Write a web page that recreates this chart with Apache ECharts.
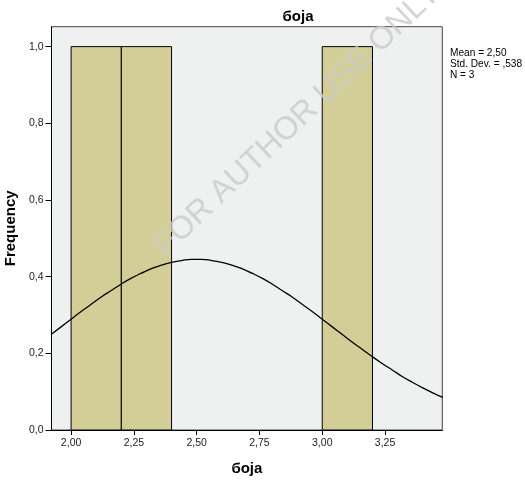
<!DOCTYPE html>
<html>
<head>
<meta charset="utf-8">
<script src="https://cdn.jsdelivr.net/npm/echarts@6/dist/echarts.min.js"></script>
<style>html,body{margin:0;padding:0;background:#fff;}#c{width:525px;height:480px;}</style>
</head>
<body>
<div id="c"></div>
<script>
// Histogram bins: [start, end, frequency]
const binStarts = [2.0, 2.2, 3.0];
const binEnds = [2.2, 2.4, 3.2];
const binFreq = [1, 1, 1];
// Normal curve readings (x, y)
const curveX = [1.92,1.96,2.00,2.04,2.08,2.12,2.16,2.20,2.24,2.28,2.32,2.36,2.40,2.44,2.48,2.52,2.56,2.60,2.64,2.68,2.72,2.76,2.80,2.84,2.88,2.92,2.96,3.00,3.04,3.08,3.12,3.16,3.20,3.24,3.28,3.32,3.36,3.40,3.44,3.48];
const curveY = [0.249,0.269,0.289,0.309,0.328,0.347,0.364,0.381,0.396,0.409,0.421,0.430,0.437,0.442,0.445,0.445,0.442,0.437,0.430,0.421,0.409,0.396,0.381,0.364,0.347,0.328,0.309,0.289,0.269,0.249,0.229,0.210,0.191,0.173,0.156,0.139,0.124,0.110,0.097,0.085];
const xTicks = [2.00, 2.25, 2.50, 2.75, 3.00, 3.25];
const yTicks = [0.0, 0.2, 0.4, 0.6, 0.8, 1.0];
const titleText = 'боја';
const xName = 'боја';
const yName = 'Frequency';
const statsLines = ['Mean = 2,50', 'Std. Dev. = ,538', 'N = 3'];
const watermark = 'FOR AUTHOR USE ONLY';

const FONT = 'Liberation Sans, Arial, sans-serif';
const chart = echarts.init(document.getElementById('c'), null, {renderer: 'canvas'});
const bars = binStarts.map((s, i) => [s, binEnds[i], binFreq[i]]);
const curve = curveX.map((x, i) => [x, curveY[i]]);

chart.setOption({
  animation: false,
  backgroundColor: '#ffffff',
  grid: {left: 51.5, right: 82.7, top: 26.7, bottom: 50, containLabel: false, outerBoundsMode: 'none',
    show: true, backgroundColor: '#eff0f0', borderColor: '#444', borderWidth: 1},
  title: {text: titleText, left: 293, top: 4, textAlign: 'center', textStyle: {fontFamily: FONT, fontSize: 15, fontWeight: 'bold', color: '#000'}},
  xAxis: {
    type: 'value', min: 1.922, max: 3.478,
    name: xName, nameLocation: 'middle', nameGap: 31,
    nameTextStyle: {fontFamily: FONT, fontSize: 15, fontWeight: 'bold', color: '#000'},
    axisLine: {show: true, onZero: false, lineStyle: {color: '#000', width: 1}},
    axisTick: {show: true, length: 5, customValues: xTicks, lineStyle: {color: '#000'}},
    axisLabel: {customValues: xTicks, margin: 8, fontFamily: FONT, fontSize: 10.5, color: '#222',
      formatter: v => v.toFixed(2).replace('.', ',')},
    splitLine: {show: false}
  },
  yAxis: {
    type: 'value', min: 0, max: 1.052,
    name: yName, nameLocation: 'middle', nameGap: 30,
    nameTextStyle: {fontFamily: FONT, fontSize: 15, fontWeight: 'bold', color: '#000'},
    axisLine: {show: true, lineStyle: {color: '#000', width: 1}},
    axisTick: {show: true, length: 6, customValues: yTicks, lineStyle: {color: '#000'}},
    axisLabel: {customValues: yTicks, margin: 8, fontFamily: FONT, fontSize: 10.5, color: '#222',
      formatter: v => v.toFixed(1).replace('.', ',')},
    splitLine: {show: false}
  },
  graphic: [
    {type: 'text', x: 450, y: 48, scaleX: 0.92, z: 10,
      style: {text: statsLines.join('\n'), font: '11px ' + FONT, lineHeight: 10.7, fill: '#000', textVerticalAlign: 'top'}},
    {type: 'text', x: 166, y: 257, rotation: 43.5 * Math.PI / 180, z: 100, silent: true,
      style: {text: watermark, x: 0, y: 7, font: '32px ' + FONT, textAlign: 'left', textVerticalAlign: 'bottom', fill: '#cbcbcb', opacity: 0.8}}
  ],
  series: [
    {
      type: 'custom', data: bars, clip: true, z: 2,
      renderItem: (params, api) => {
        const p0 = api.coord([api.value(0), api.value(2)]);
        const p1 = api.coord([api.value(1), 0]);
        return {type: 'rect', shape: {x: p0[0], y: p0[1], width: p1[0] - p0[0], height: p1[1] - p0[1]},
          style: {fill: '#d3ce97', stroke: '#000', lineWidth: 1}};
      },
      encode: {x: [0, 1], y: 2}
    },
    {
      type: 'line', data: curve, smooth: true, showSymbol: false, symbol: 'none', z: 3,
      lineStyle: {color: '#000', width: 1.3}
    }
  ]
});
</script>
</body>
</html>
